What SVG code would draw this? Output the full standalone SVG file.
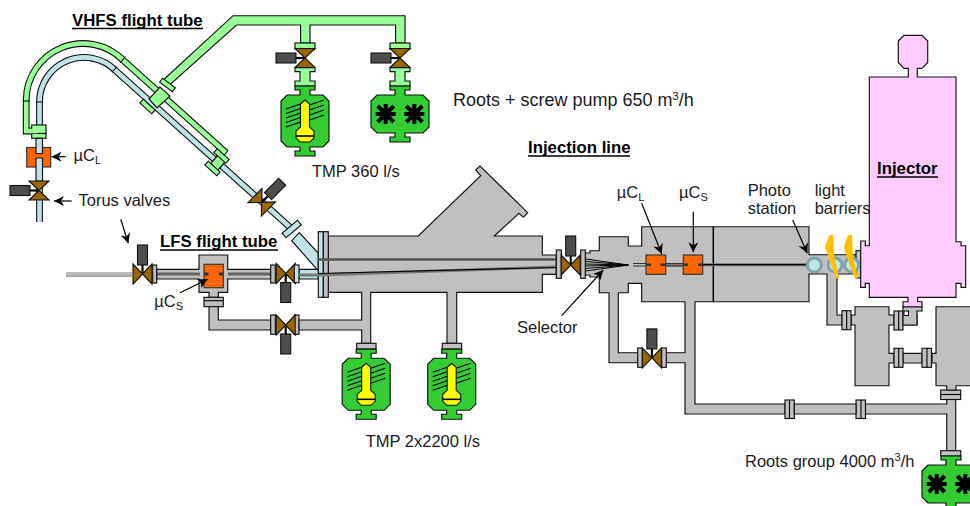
<svg xmlns="http://www.w3.org/2000/svg" xmlns:xlink="http://www.w3.org/1999/xlink" width="970" height="506" viewBox="0 0 970 506">
<style>
text{font-family:"Liberation Sans",Arial,sans-serif;font-size:16.5px;fill:#1a1a1a}
.b{font-weight:bold;fill:#000;font-size:16.8px}
.sub{font-size:11px}
.g,.fl{fill:#c0c0c0;stroke:#111;stroke-width:1.15}
.lg{fill:#99ff99;stroke:#111;stroke-width:1.15}
.dg{fill:#33cc33;stroke:#111;stroke-width:1.15}
.bl{fill:#bfe3e6;stroke:#111;stroke-width:1.15}
.or{fill:#ff6600;stroke:#333;stroke-width:1.15}
.pk{fill:#ffccff;stroke:#111;stroke-width:1.15}
.o7{fill:none;stroke:#111;stroke-width:6.800}
.gf{fill:none;stroke:#99ff99;stroke-width:4.600}
.bf{fill:none;stroke:#bfe3e6;stroke-width:4.600}
.k{fill:none;stroke:#000;stroke-width:1.1}
.gb{fill:none;stroke:#666;stroke-width:3}
.ar{fill:none;stroke:#000;stroke-width:1.2;marker-end:url(#ah)}
.ul{stroke:#000;stroke-width:1.6}
.ring{fill:#bfe3e6;stroke:#7fa3a8;stroke-width:3}
.bolt{fill:#ffc000}
</style>
<defs>
<marker id="ah" markerUnits="userSpaceOnUse" markerWidth="11" markerHeight="10" refX="10" refY="5" orient="auto"><path d="M10 5L0 0L3 5L0 10Z" fill="#000"/></marker>
<g id="valve"><path d="M-9 0H0" stroke="#000" stroke-width="2.2"/><rect x="-29" y="-5" width="20" height="10" fill="#4d4d4d" stroke="#111" stroke-width="1.1"/><path d="M-10 -9.500H10L0 0L10 9.500H-10L0 0Z" fill="#996600" stroke="#111" stroke-width="1.1"/></g>
<g id="tmp"><path class="dg" d="M-10 -9H10V-5H5V0H18L24 6V46L18 52H5V56H10V61H-10V56H-5V52H-18L-24 46V6L-18 0H-5V-5H-10Z"/><path class="k" d="M-19 14L-4.500 9M-19 18.500L-4.500 13.500M-19 23L-4.500 18M-19 27.500L-4.500 22.500M-19 32L-4.500 27M4.500 10L19 5M4.500 15L19 10M4.500 20L19 15M4.500 25L19 20"/><path d="M0 5L4.500 9V32L9 36V43L5 47H-5L-9 43V36L-4.500 32V9Z" fill="#ffff00" stroke="#111" stroke-width="1.1"/><path d="M-9 41H9" stroke="#000" stroke-width="1.600"/></g>
<g id="star"><path d="M-10 0H10M0 -10V10M-8 -8L8 8M-8 8L8 -8" stroke="#000" stroke-width="4"/><circle r="6" fill="#000"/></g>
<g id="roots"><path class="dg" d="M-10 -9H10V-5H5V0H23L29 6V32L23 38H5V42H10V47H-10V42H-5V38H-23L-29 32V6L-23 0H-5V-5H-10Z"/><use xlink:href="#star" href="#star" x="-14.300" y="19"/><use xlink:href="#star" href="#star" x="14.300" y="19"/></g>
<g id="stem"><rect class="lg" x="-10" y="43" width="20" height="6"/><path class="lg" d="M-10 67.700H10V71.600H5V81H10V86H-10V81H-5V71.600H-10Z"/></g>
</defs>

<g id="connectors">
<path class="o7" d="M35 131H26.200V100A56.800 56.800 0 0 1 123 60L224 151L217 160"/>
<path class="gf" d="M35 131H26.200V100A56.800 56.800 0 0 1 123 60L224 151L217 160"/>
<path class="o7" d="M39.500 125V102A44.500 44.500 0 0 1 115.500 70.500L292 229"/>
<path class="bf" d="M39.500 125V102A44.500 44.500 0 0 1 115.500 70.500L292 229"/>
<path class="k" d="M22.700 101H29.700M36 102H43M125.500 56.500L120 63M117 66.500L112.500 71.500"/>
<path class="lg" d="M163.300 80L233 15.700H405V43H395.600V25H310V43H300.600V25H236.500L168.500 86Z"/>
<path class="o7" d="M39.500 138V222"/><path class="bf" d="M39.500 138V222"/>
</g>

<g id="vhfs-joints">
<path class="lg" d="M149 99L160 87L170 96L157 108Z"/>
<rect class="lg" x="-8" y="-2.500" width="16" height="5" transform="translate(147.500 106.500) rotate(42)"/>
<rect class="lg" x="-8" y="-2.500" width="16" height="5" transform="translate(167.500 85) rotate(37)"/>
<path class="lg" d="M211 163L219 154L226 161L217 171Z"/>
<rect class="lg" x="-8" y="-2.500" width="16" height="5" transform="translate(212.500 168.500) rotate(42)"/>
<rect class="lg" x="-8" y="-2.500" width="16" height="5" transform="translate(221.500 156) rotate(42)"/>
<rect class="lg" x="31.700" y="125" width="14.300" height="8.500"/>
<rect class="lg" x="31.700" y="133.500" width="14.300" height="4.800"/>
<path class="gf" d="M30 131H38"/>
</g>
<g id="torus-monitor">
<rect class="or" x="26.700" y="147.500" width="24" height="19.500"/>
<path class="bl" d="M36 138.300H42.500V153.500H36Z"/><path class="bl" d="M36 158H42.500V181H36Z"/>
</g>
<g id="valve-torus-upper"><use xlink:href="#valve" href="#valve" transform="translate(39 190.500)"/></g>
<g id="valve-diagonal"><use xlink:href="#valve" href="#valve" transform="translate(261.700 202.300) rotate(-45) scale(-1 1)"/></g>
<g id="diagonal-flange"><rect class="bl" x="-10" y="-3" width="20" height="6" transform="translate(291.700 229) rotate(-40)"/></g>

<g id="vhfs-pumps">
<use xlink:href="#stem" href="#stem" x="305"/>
<use xlink:href="#stem" href="#stem" x="400"/>
<use xlink:href="#tmp" href="#tmp" x="305" y="95"/>
<use xlink:href="#roots" href="#roots" x="400" y="95"/>
<use xlink:href="#valve" href="#valve" transform="translate(305 58)"/>
<use xlink:href="#valve" href="#valve" transform="translate(400 58)"/>
</g>

<g id="lfs-tube">
<line x1="66" y1="273" x2="132" y2="273" stroke="#777" stroke-width="1"/>
<line x1="66" y1="274.500" x2="132" y2="274.500" stroke="#bbb" stroke-width="1.200"/>
<line x1="66" y1="276" x2="132" y2="276" stroke="#555" stroke-width="1"/>
<path class="g" d="M199 255H227.700V269.300H270.700V279H227.700V292.300H218.300V297.300H209V292.300H199V279H156.700V269.300H199Z"/>
<rect class="or" x="204" y="264.300" width="19.300" height="23.400"/>
<path class="gb" d="M157 274H200M228 274H270"/>
<path d="M204 274H208.500M219 274H223.300" stroke="#333" stroke-width="3"/>
<rect class="fl" x="152.700" y="265" width="4" height="18"/>
<rect class="fl" x="270.700" y="265" width="4.600" height="18"/>
<rect class="fl" x="204" y="297.300" width="19.300" height="9.400"/>
<line x1="204" y1="300.700" x2="223.300" y2="300.700" stroke="#000" stroke-width="1.100"/>
<path class="g" d="M209 306.700H218.300V320H270.700V330H209Z"/>
<rect class="fl" x="270.700" y="315" width="4.600" height="19.300"/>
<rect class="fl" x="294.300" y="315" width="4.700" height="19.300"/>
<use xlink:href="#valve" href="#valve" transform="translate(142.500 274) rotate(90)"/>
<use xlink:href="#valve" href="#valve" transform="translate(285.700 273.500) rotate(-90)"/>
<use xlink:href="#valve" href="#valve" transform="translate(285.700 325) rotate(-90)"/>
</g>

<g id="target-chamber">
<path class="g" d="M328.300 236H418.300L480.700 175.700L475.700 170L480 166L527.700 212.700L523.300 217.300L519 213.300L494.300 236H542.300V255H556.300V274.300H542.300V292.300H456.700V343.300H447V292.300H370.700V343.300H361.700V330H299V320H361.700V292.300H328.300Z"/>
<path class="bl" d="M299 269.300H317L291.700 240.700L299.300 232.700L318.300 253.300V279H299Z"/>
<rect class="bl" x="294.300" y="265" width="4.700" height="17.700"/>
<rect class="bl" x="318.300" y="231.700" width="5" height="65.600"/>
<rect class="fl" x="323.300" y="231.700" width="5" height="65.600"/>
<path d="M318 259.500H556" stroke="#555" stroke-width="2.500"/>
<path d="M299 275H318L556 267" stroke="#777" stroke-width="3" fill="none"/>
<path d="M318 273.500L556 267.500" stroke="#000" stroke-width="1.100"/>
<rect class="fl" x="556.300" y="250" width="5" height="28.300"/>
<use xlink:href="#valve" href="#valve" transform="translate(570.700 265) rotate(90)"/>
</g>

<g id="turbo-pumps">
<rect class="fl" x="356.700" y="343.300" width="19.300" height="5.700"/>
<rect class="fl" x="442.300" y="343.300" width="19.300" height="5.700"/>
<use xlink:href="#tmp" href="#tmp" x="366.200" y="358.300"/>
<use xlink:href="#tmp" href="#tmp" x="451.700" y="358.300"/>
</g>

<g id="injection-line">
<path class="g" d="M585 253H590V250.700H599.300V236.700H628.300V246H641.700V226.700H809V254.700H856V274H837V315H842V325H827V274H809V301.700H695V404H785V414H685V362.700H666.300V352.700H685V301.700H641.700V283.300H628.300V292.700H618.300V352.700H637.700V362.700H609V292.700H599.300V277H590V275H585Z"/>
<path d="M713.300 226.700V301.700" stroke="#000" stroke-width="1.500"/>
<rect class="fl" x="580.700" y="250" width="4.600" height="28.300"/>
<rect class="fl" x="637.700" y="348" width="4.600" height="19.300"/>
<rect class="fl" x="661.700" y="348" width="4.600" height="19.300"/>
<use xlink:href="#valve" href="#valve" transform="translate(651.900 357.900) rotate(90)"/>
<g stroke="#000" stroke-width="1" fill="none"><path d="M586 259L628.300 265M586 261.500L628.300 265M586 264L628.300 265M586 266L628.300 265M586 268.500L628.300 265M586 271L628.300 265"/></g>
<path d="M665.500 264.700H702" stroke="#777" stroke-width="3.500"/>
<path d="M702 264.700H806" stroke="#777" stroke-width="3"/>
<path d="M633 263.500H646M633 266H646M665.700 263.500H683.300M665.700 266H683.300" stroke="#333" stroke-width="1"/>
<path d="M702.700 264.700H806" stroke="#000" stroke-width="1.200"/>
<rect class="or" x="646" y="255" width="19.700" height="19.300"/>
<rect class="or" x="683.300" y="255" width="19.400" height="19.300"/>
<path d="M646 264.700H651M660.500 264.700H665.700M683.300 264.700H688M698 264.700H702.700" stroke="#333" stroke-width="2.500"/>
</g>

<g id="rough-pipe">
<rect class="fl" x="785" y="400" width="9.300" height="18.500"/><line x1="789.500" y1="400" x2="789.500" y2="418.500" stroke="#000" stroke-width="1.100"/>
<rect class="fl" x="856" y="400" width="9.500" height="18.500"/><line x1="861" y1="400" x2="861" y2="418.500" stroke="#000" stroke-width="1.100"/>
<path class="g" d="M794.300 404H856V414H794.300Z"/>
<path class="g" d="M865.500 404H946.700V399H955.700V451H946.700V414H865.500Z"/>
<rect class="fl" x="940.700" y="390" width="20" height="9.500"/><line x1="940.700" y1="394.500" x2="960.700" y2="394.500" stroke="#000" stroke-width="1.100"/>
<rect class="fl" x="940.700" y="450.700" width="20" height="5.300"/>
</g>
<g id="roots-group"><use xlink:href="#roots" href="#roots" x="951" y="465"/></g>

<g id="backing-boxes">
<rect class="fl" x="856" y="250.700" width="5" height="27.300"/>
<path class="g" d="M855 306.700H889V315H894V325H889V353.300H894V363H889V385.700H855V325H851V315H855Z"/>
<path class="g" d="M936 306.700H972V385.700H956V390H946.700V385.700H936V363H932V353.300H936Z"/>
<rect class="fl" x="842" y="310.700" width="9" height="19"/><line x1="846.700" y1="310.700" x2="846.700" y2="329.700" stroke="#000" stroke-width="1.100"/>
<path class="g" d="M903 315H917V325H903Z"/>
<rect class="fl" x="894" y="311" width="9" height="19"/><line x1="898.700" y1="311" x2="898.700" y2="330" stroke="#000" stroke-width="1.100"/>
<path class="g" d="M903 353.300H922V363H903Z"/>
<rect class="fl" x="894" y="348.300" width="9" height="19"/><line x1="898.700" y1="348.300" x2="898.700" y2="367.300" stroke="#000" stroke-width="1.100"/>
<rect class="fl" x="922" y="348.300" width="9.500" height="19"/><line x1="927" y1="348.300" x2="927" y2="367.300" stroke="#000" stroke-width="1.100"/>
<path class="g" d="M903 306.700H922V311H917V325H903Z"/>
<rect x="904" y="311" width="4.500" height="4.500" fill="#fff" stroke="#000" stroke-width="1"/>
</g>

<g id="injector">
<path class="pk" d="M898.300 41L904 35.300H922L927.700 41V62.500L922 68.300H917.300V77H956V241.700H961V245.700H965.700V287.300H961V283.300H956V297.300H917.600V301.700H922V306.700H903V301.700H908V297.300H869.300V283.300H865.300V287.300H860.700V241H865.300V245.700H869.300V77H908.300V68.300H904L898.300 62.500Z"/>
</g>

<g id="light-barriers">
<circle class="ring" cx="814.300" cy="265" r="7"/>
<circle class="ring" cx="835" cy="265" r="7"/>
<circle class="ring" cx="851.700" cy="265" r="7"/>
<polygon class="bolt" points="829.300,235 833.300,235 834.300,257.300 839.300,278.300 836,278.300 829.300,260 825,246.700"/>
<polygon class="bolt" points="848,235 852,235 853,257.300 858,278.300 854.700,278.300 848,260 843.700,246.700"/>
</g>

<g id="leaders">
<path class="ar" d="M65.700 156.700H51.500"/>
<path class="ar" d="M71.700 201H54"/>
<path class="ar" d="M120.700 219.300L128.300 243.300"/>
<path class="ar" d="M180 292.700L207.700 279.300"/>
<path class="ar" d="M561.700 315.700L603.300 270"/>
<path class="ar" d="M641.700 203.300L661.700 254"/>
<path class="ar" d="M693.300 211.700V252.300"/>
<path class="ar" d="M792.700 220L807.300 253.300"/>
</g>

<g id="labels">
<text class="b" x="72" y="26">VHFS flight tube</text><line class="ul" x1="72" y1="28.500" x2="203" y2="28.500"/>
<text class="b" x="160" y="247">LFS flight tube</text><line class="ul" x1="160" y1="250" x2="278" y2="250"/>
<text class="b" x="528" y="153">Injection line</text><line class="ul" x1="528" y1="156" x2="630" y2="156"/>
<text class="b" x="877" y="174">Injector</text><line class="ul" x1="877" y1="177" x2="938" y2="177"/>
<text x="73.500" y="161">µC<tspan class="sub" dy="3">L</tspan></text>
<text x="78.500" y="206">Torus valves</text>
<text x="154.300" y="306.500">µC<tspan class="sub" dy="3">S</tspan></text>
<text x="312" y="176.500">TMP 360 l/s</text>
<text x="453" y="106" style="font-size:18px">Roots + screw pump 650 m<tspan class="sub" dy="-6">3</tspan><tspan dy="6">/h</tspan></text>
<text x="365.700" y="447.300">TMP 2x2200 l/s</text>
<text x="517" y="333">Selector</text>
<text x="616.700" y="198">µC<tspan class="sub" dy="3">L</tspan></text>
<text x="679" y="198">µC<tspan class="sub" dy="3">S</tspan></text>
<text x="747.700" y="196">Photo</text>
<text x="747.700" y="214">station</text>
<text x="814.700" y="196">light</text>
<text x="814.700" y="214">barriers</text>
<text x="745" y="467">Roots group 4000 m<tspan class="sub" dy="-6">3</tspan><tspan dy="6">/h</tspan></text>
</g>
</svg>
